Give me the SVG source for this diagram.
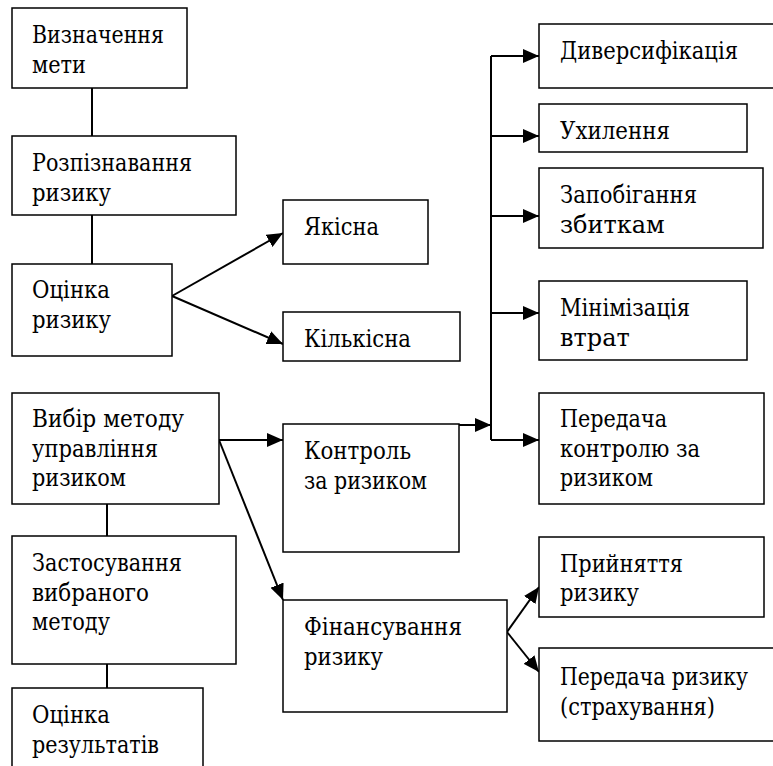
<svg xmlns="http://www.w3.org/2000/svg" width="773" height="766" viewBox="0 0 773 766">
  <style>
    .box { fill: #fff; stroke: #000; stroke-width: 1.5; }
    .lbl { font-family: "DejaVu Serif", "Liberation Serif", serif; font-size: 24px; fill: #000; }
    .ln { fill: none; stroke: #000; stroke-width: 2; }
    .arr { fill: none; stroke: #000; stroke-width: 2; marker-end: url(#head); }
  </style>
  <defs>
    <marker id="head" markerUnits="userSpaceOnUse" markerWidth="16" markerHeight="14" refX="16" refY="7" orient="auto">
      <path d="M0,0 L16,7 L0,14 z" fill="#000"/>
    </marker>
  </defs>
  <rect width="773" height="766" fill="#fff"/>

  <!-- connectors -->
  <g id="connectors">
    <line class="ln" x1="92" y1="88" x2="92" y2="136"/>
    <line class="ln" x1="92" y1="215" x2="92" y2="264"/>
    <line class="ln" x1="107" y1="504" x2="107" y2="536"/>
    <line class="ln" x1="107" y1="664" x2="107" y2="688"/>
    <line class="arr" x1="172" y1="296" x2="283" y2="233"/>
    <line class="arr" x1="172" y1="296" x2="283" y2="344"/>
    <line class="arr" x1="219" y1="440" x2="283" y2="440"/>
    <line class="arr" x1="219" y1="440" x2="283" y2="600"/>
    <line class="arr" x1="459" y1="425" x2="491" y2="425"/>
    <line class="ln" x1="491" y1="56" x2="491" y2="440"/>
    <line class="arr" x1="491" y1="56" x2="539" y2="56"/>
    <line class="arr" x1="491" y1="136" x2="539" y2="136"/>
    <line class="arr" x1="491" y1="216" x2="539" y2="216"/>
    <line class="arr" x1="491" y1="313" x2="539" y2="313"/>
    <line class="arr" x1="491" y1="440" x2="539" y2="440"/>
    <line class="arr" x1="507" y1="632" x2="539" y2="587"/>
    <line class="arr" x1="507" y1="632" x2="539" y2="672"/>
  </g>

  <!-- left column: process steps -->
  <g id="n-goal">
    <rect class="box" x="12" y="8" width="175" height="80"/>
    <text class="lbl" x="32" y="43" textLength="132" lengthAdjust="spacingAndGlyphs">Визначення</text>
    <text class="lbl" x="32" y="73" textLength="54" lengthAdjust="spacingAndGlyphs">мети</text>
  </g>
  <g id="n-identify">
    <rect class="box" x="12" y="136" width="224" height="79"/>
    <text class="lbl" x="32" y="171" textLength="160" lengthAdjust="spacingAndGlyphs">Розпізнавання</text>
    <text class="lbl" x="32" y="201" textLength="79" lengthAdjust="spacingAndGlyphs">ризику</text>
  </g>
  <g id="n-assess">
    <rect class="box" x="12" y="264" width="160" height="92"/>
    <text class="lbl" x="32" y="298" textLength="78" lengthAdjust="spacingAndGlyphs">Оцінка</text>
    <text class="lbl" x="32" y="328" textLength="79" lengthAdjust="spacingAndGlyphs">ризику</text>
  </g>
  <g id="n-choose">
    <rect class="box" x="12" y="393" width="207" height="111"/>
    <text class="lbl" x="32" y="427" textLength="152" lengthAdjust="spacingAndGlyphs">Вибір методу</text>
    <text class="lbl" x="32" y="457" textLength="126" lengthAdjust="spacingAndGlyphs">управління</text>
    <text class="lbl" x="32" y="486" textLength="94" lengthAdjust="spacingAndGlyphs">ризиком</text>
  </g>
  <g id="n-apply">
    <rect class="box" x="12" y="536" width="224" height="128"/>
    <text class="lbl" x="32" y="571" textLength="150" lengthAdjust="spacingAndGlyphs">Застосування</text>
    <text class="lbl" x="32" y="601" textLength="117" lengthAdjust="spacingAndGlyphs">вибраного</text>
    <text class="lbl" x="32" y="630" textLength="78" lengthAdjust="spacingAndGlyphs">методу</text>
  </g>
  <g id="n-results">
    <rect class="box" x="12" y="688" width="191" height="90"/>
    <text class="lbl" x="32" y="723" textLength="78" lengthAdjust="spacingAndGlyphs">Оцінка</text>
    <text class="lbl" x="32" y="753" textLength="127" lengthAdjust="spacingAndGlyphs">результатів</text>
  </g>

  <!-- middle column -->
  <g id="n-qual">
    <rect class="box" x="283" y="200" width="145" height="64"/>
    <text class="lbl" x="304" y="235" textLength="75" lengthAdjust="spacingAndGlyphs">Якісна</text>
  </g>
  <g id="n-quant">
    <rect class="box" x="283" y="312" width="177" height="49"/>
    <text class="lbl" x="304" y="347" textLength="107" lengthAdjust="spacingAndGlyphs">Кількісна</text>
  </g>
  <g id="n-control">
    <rect class="box" x="283" y="424" width="176" height="128"/>
    <text class="lbl" x="304" y="459" textLength="107" lengthAdjust="spacingAndGlyphs">Контроль</text>
    <text class="lbl" x="304" y="489" textLength="123" lengthAdjust="spacingAndGlyphs">за ризиком</text>
  </g>
  <g id="n-finance">
    <rect class="box" x="283" y="600" width="224" height="112"/>
    <text class="lbl" x="304" y="635" textLength="158" lengthAdjust="spacingAndGlyphs">Фінансування</text>
    <text class="lbl" x="304" y="665" textLength="79" lengthAdjust="spacingAndGlyphs">ризику</text>
  </g>

  <!-- right column: control methods and financing options -->
  <g id="n-divers">
    <rect class="box" x="539" y="24" width="235" height="64"/>
    <text class="lbl" x="560" y="59" textLength="178" lengthAdjust="spacingAndGlyphs">Диверсифікація</text>
  </g>
  <g id="n-avoid">
    <rect class="box" x="539" y="104" width="208" height="48"/>
    <text class="lbl" x="560" y="139" textLength="110" lengthAdjust="spacingAndGlyphs">Ухилення</text>
  </g>
  <g id="n-prevent">
    <rect class="box" x="539" y="168" width="224" height="80"/>
    <text class="lbl" x="560" y="203" textLength="137" lengthAdjust="spacingAndGlyphs">Запобігання</text>
    <text class="lbl" x="560" y="233">збиткам</text>
  </g>
  <g id="n-minimize">
    <rect class="box" x="539" y="281" width="208" height="79"/>
    <text class="lbl" x="560" y="316" textLength="130" lengthAdjust="spacingAndGlyphs">Мінімізація</text>
    <text class="lbl" x="560" y="346">втрат</text>
  </g>
  <g id="n-transfer-ctrl">
    <rect class="box" x="539" y="393" width="225" height="111"/>
    <text class="lbl" x="560" y="427" textLength="107" lengthAdjust="spacingAndGlyphs">Передача</text>
    <text class="lbl" x="560" y="457" textLength="140" lengthAdjust="spacingAndGlyphs">контролю за</text>
    <text class="lbl" x="560" y="486" textLength="93" lengthAdjust="spacingAndGlyphs">ризиком</text>
  </g>
  <g id="n-accept">
    <rect class="box" x="539" y="537" width="225" height="80"/>
    <text class="lbl" x="560" y="572" textLength="123" lengthAdjust="spacingAndGlyphs">Прийняття</text>
    <text class="lbl" x="560" y="601" textLength="79" lengthAdjust="spacingAndGlyphs">ризику</text>
  </g>
  <g id="n-insure">
    <rect class="box" x="539" y="648" width="235" height="93"/>
    <text class="lbl" x="560" y="685" textLength="188" lengthAdjust="spacingAndGlyphs">Передача ризику</text>
    <text class="lbl" x="560" y="715" textLength="155" lengthAdjust="spacingAndGlyphs">(страхування)</text>
  </g>
</svg>
